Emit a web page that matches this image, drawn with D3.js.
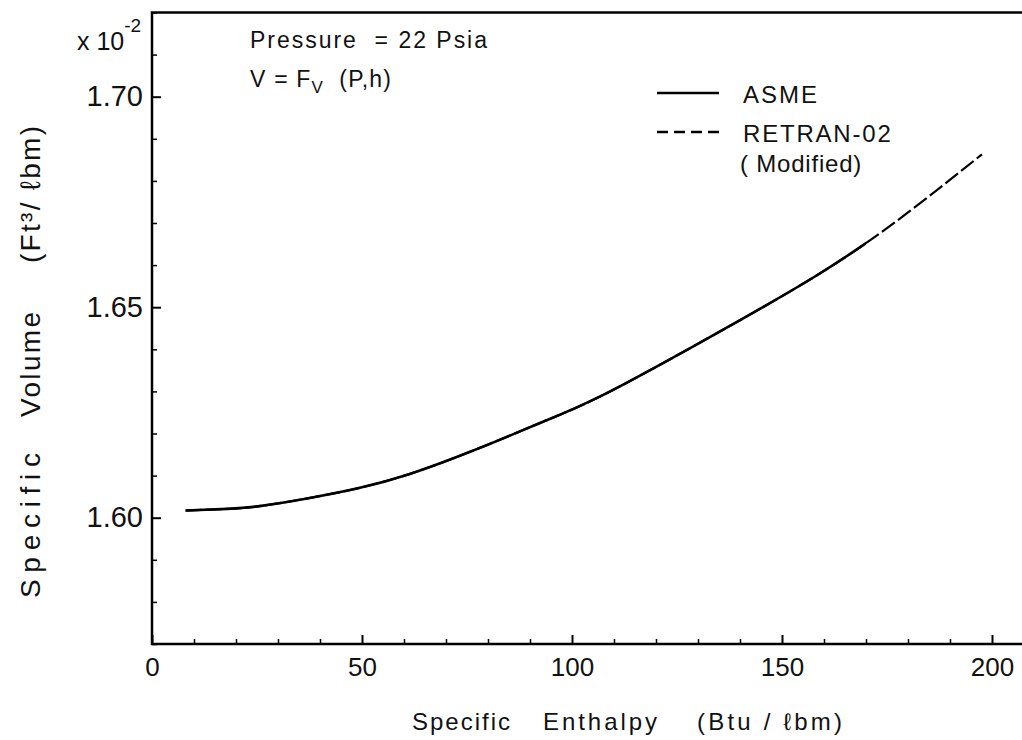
<!DOCTYPE html>
<html>
<head>
<meta charset="utf-8">
<script src="https://cdn.jsdelivr.net/npm/d3@7"></script>
<style>
  body { margin: 0; background: #fff; }
  svg text { font-family: "Liberation Sans", Arial, sans-serif; fill: #111; }
</style>
</head>
<body>
<svg id="chart"></svg>
<script>

// data (volume in units of 1e-2 ft3/lbm)
var enthalpy = [8, 18, 26, 37.6, 49.5, 61.4, 73.3, 85.2, 93.1, 106.7, 130.5, 159, 180, 197.6];
var asmeVolume = [1.6017, 1.6021, 1.6028, 1.6047, 1.6071, 1.6104, 1.6147, 1.6195, 1.6228, 1.6288, 1.6416, 1.6580, 1.6725, 1.6863];
var retranVolume = [1.6017, 1.6021, 1.6028, 1.6047, 1.6071, 1.6104, 1.6147, 1.6195, 1.6228, 1.6288, 1.6416, 1.6580, 1.6725, 1.6863];
var asmeEnd = 170;

var xTicks = [0, 50, 100, 150, 200];
var yTicks = [1.60, 1.65, 1.70];

var width = 1022, height = 740;

var svg = d3.select("#chart")
  .attr("width", width)
  .attr("height", height);

var x = d3.scaleLinear().domain([0, 200]).range([152, 992]);
var y = d3.scaleLinear().domain([1.57, 1.72]).range([644, 12.5]);

var xLeft = x(0), yBottom = y(1.57), yTop = y(1.72);

// minor ticks every 10 / 0.01
var xMinor = d3.range(0, 211, 10).filter(function(d) { return d % 50 !== 0; });
var yMinor = d3.range(157, 173, 1).map(function(d) { return d / 100; })
  .filter(function(d) { return Math.round(d * 100) % 5 !== 0; });

var xAxis = svg.append("g")
  .attr("transform", "translate(0," + yBottom + ")")
  .call(d3.axisBottom(x).tickValues(xTicks).tickSize(-9).tickPadding(14)
    .tickFormat(d3.format("d")));
xAxis.select(".domain").remove();
xAxis.selectAll("text").attr("font-size", 26).attr("font-family", "Liberation Sans");
xAxis.selectAll("line").attr("stroke-width", 2);

var xAxisMinor = svg.append("g")
  .attr("transform", "translate(0," + yBottom + ")")
  .call(d3.axisBottom(x).tickValues(xMinor).tickSize(-5).tickFormat(""));
xAxisMinor.select(".domain").remove();
xAxisMinor.selectAll("line").attr("stroke-width", 1.5);

var yAxis = svg.append("g")
  .attr("transform", "translate(" + xLeft + ",0)")
  .call(d3.axisLeft(y).tickValues(yTicks).tickSize(-9).tickPadding(9)
    .tickFormat(d3.format(".2f")));
yAxis.select(".domain").remove();
yAxis.selectAll("text").attr("font-size", 29).attr("font-family", "Liberation Sans");
yAxis.selectAll("line").attr("stroke-width", 2);

var yAxisMinor = svg.append("g")
  .attr("transform", "translate(" + xLeft + ",0)")
  .call(d3.axisLeft(y).tickValues(yMinor).tickSize(-5).tickFormat(""));
yAxisMinor.select(".domain").remove();
yAxisMinor.selectAll("line").attr("stroke-width", 1.5);

// frame: top, left, bottom (right side runs off the page)
svg.append("path")
  .attr("d", "M" + width + "," + yTop + "H" + xLeft + "V" + yBottom + "H" + width)
  .attr("fill", "none")
  .attr("stroke", "#000")
  .attr("stroke-width", 2.5);

// curves
var asmeData = enthalpy.map(function(h, i) { return { h: h, v: asmeVolume[i] }; });
var retranData = enthalpy.map(function(h, i) { return { h: h, v: retranVolume[i] }; });

var line = d3.line()
  .x(function(d) { return x(d.h); })
  .y(function(d) { return y(d.v); })
  .curve(d3.curveNatural);

svg.append("clipPath").attr("id", "asmeClip")
  .append("rect")
  .attr("x", 0).attr("y", 0)
  .attr("width", x(asmeEnd)).attr("height", height);

svg.append("path")
  .datum(asmeData)
  .attr("d", line)
  .attr("clip-path", "url(#asmeClip)")
  .attr("fill", "none")
  .attr("stroke", "#000")
  .attr("stroke-width", 2.6);

svg.append("path")
  .datum(retranData)
  .attr("d", line)
  .attr("fill", "none")
  .attr("stroke", "#000")
  .attr("stroke-width", 2.2)
  .attr("stroke-dasharray", "16,4");

// y multiplier
var mult = svg.append("text")
  .attr("x", 77).attr("y", 50)
  .attr("font-size", 25);
mult.append("tspan").text("x 10");
mult.append("tspan").attr("dy", -18).attr("font-size", 19).text("-2");

// annotations
svg.append("text")
  .attr("x", 250).attr("y", 48)
  .attr("font-size", 23)
  .attr("textLength", 237)
  .attr("lengthAdjust", "spacing")
  .attr("xml:space", "preserve")
  .text("Pressure  = 22 Psia");

var eq = svg.append("text")
  .attr("x", 250).attr("y", 87)
  .attr("font-size", 23)
  .attr("letter-spacing", 1.2)
  .attr("xml:space", "preserve");
eq.append("tspan").text("V = F");
eq.append("tspan").attr("dy", 6).attr("font-size", 17).text("V");
eq.append("tspan").attr("dy", -6).text("  (P,h)");

// legend
svg.append("line")
  .attr("x1", 657).attr("x2", 719).attr("y1", 93).attr("y2", 93)
  .attr("stroke", "#000").attr("stroke-width", 2.5);
svg.append("text")
  .attr("x", 743).attr("y", 103)
  .attr("font-size", 24).attr("letter-spacing", 2)
  .text("ASME");

svg.append("line")
  .attr("x1", 657).attr("x2", 719).attr("y1", 132).attr("y2", 132)
  .attr("stroke", "#000").attr("stroke-width", 2.5)
  .attr("stroke-dasharray", "11,6");
svg.append("text")
  .attr("x", 743).attr("y", 142)
  .attr("font-size", 24).attr("letter-spacing", 1.8)
  .text("RETRAN-02");
svg.append("text")
  .attr("x", 740).attr("y", 172)
  .attr("font-size", 24).attr("letter-spacing", 0.8)
  .text("( Modified)");

// x axis title
var xTitle = [["Specific", 412, 98], ["Enthalpy", 543, 114], ["(Btu / \u2113bm)", 697, 145]];
svg.selectAll(".xtitle")
  .data(xTitle)
  .enter().append("text")
  .attr("class", "xtitle")
  .attr("x", function(d) { return d[1]; })
  .attr("y", 730)
  .attr("font-size", 24)
  .attr("textLength", function(d) { return d[2]; })
  .attr("lengthAdjust", "spacing")
  .attr("xml:space", "preserve")
  .text(function(d) { return d[0]; });

// y axis title
var yTitle = [["Specific", 598, 145], ["Volume", 417, 105], ["(Ft\u00b3/ \u2113bm)", 263, 137]];
svg.selectAll(".ytitle")
  .data(yTitle)
  .enter().append("text")
  .attr("class", "ytitle")
  .attr("transform", function(d) { return "translate(40," + d[1] + ") rotate(-90)"; })
  .attr("font-size", 28)
  .attr("textLength", function(d) { return d[2]; })
  .attr("lengthAdjust", "spacing")
  .text(function(d) { return d[0]; });

</script>
</body>
</html>
